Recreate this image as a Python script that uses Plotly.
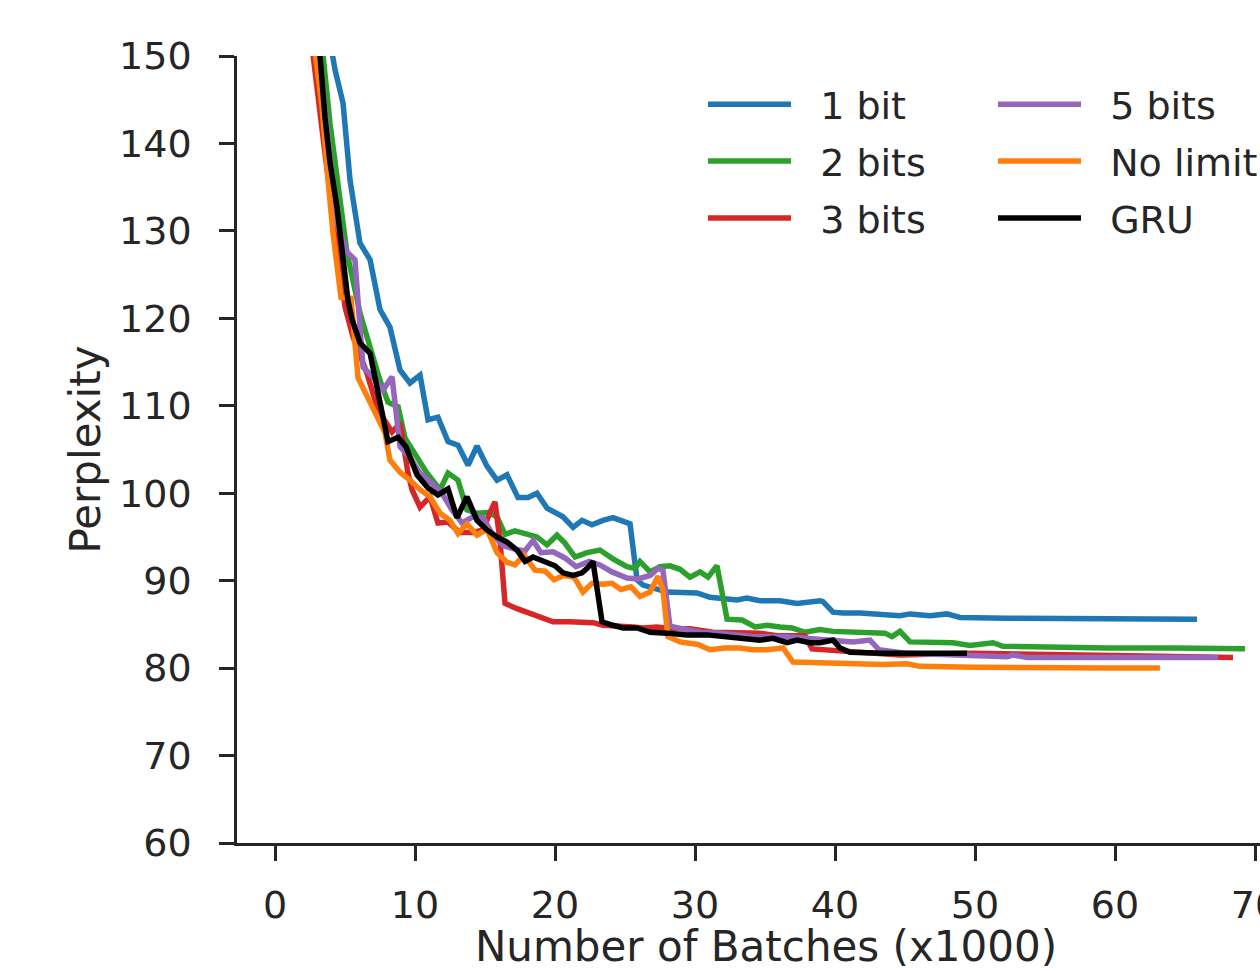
import plotly.graph_objects as go

# ---- data (x in thousands of batches, y = perplexity) ----
x_1bit = [3.9, 4.07, 4.29, 4.86, 5.36, 6.07, 6.79, 7.5, 8.21, 8.93, 9.64, 10.36, 10.93, 11.64, 12.36, 13.07,
          13.79, 14.43, 15.14, 15.86, 16.57, 17.36, 18.07, 18.71, 19.43, 20.57, 21.29, 21.93, 22.64, 23.43,
          24.14, 25.36, 25.86, 26.29, 28.0, 30.14, 31.07, 31.79, 33.0, 33.71, 34.64, 36.07, 37.29, 38.93,
          39.14, 39.86, 40.57, 41.79, 43.43, 44.64, 45.36, 46.79, 48.0, 48.93, 52.29, 57.0, 61.79, 65.86]
y_1bit = [152.0, 150.1, 148.4, 144.6, 135.8, 128.6, 126.7, 121.0, 119.0, 114.1, 112.6, 113.5, 108.4, 108.7,
          105.9, 105.5, 103.2, 105.4, 103.1, 101.5, 102.1, 99.5, 99.5, 100.0, 98.3, 97.3, 96.1, 96.9, 96.4,
          96.9, 97.2, 96.5, 90.1, 89.5, 88.7, 88.6, 88.1, 88.0, 87.8, 88.0, 87.7, 87.7, 87.4, 87.7, 87.6,
          86.4, 86.3, 86.3, 86.2, 86.0, 86.2, 86.0, 86.2, 85.8, 85.7, 85.7, 85.6, 85.6]

x_2bits = [3.2, 3.43, 3.93, 5.14, 6.07, 6.57, 7.5, 8.07, 8.79, 9.29, 10.14, 10.86, 11.79, 12.36, 13.07, 13.71,
           14.43, 15.21, 15.86, 16.43, 17.14, 18.0, 18.71, 19.43, 20.14, 20.71, 21.43, 22.29, 23.21, 24.14,
           25.14, 25.71, 26.07, 26.79, 27.5, 28.21, 28.93, 29.64, 30.36, 30.93, 31.57, 32.29, 33.36, 34.29,
           35.14, 36.07, 36.93, 37.86, 38.93, 39.86, 41.07, 42.29, 43.57, 44.07, 44.64, 45.36, 47.0, 48.43,
           49.64, 51.29, 52.0, 54.64, 59.43, 64.14, 69.29]
y_2bits = [152.5, 150.1, 142.3, 127.5, 120.6, 117.9, 112.9, 110.4, 109.9, 106.3, 104.1, 102.3, 100.4, 102.3,
           101.5, 98.1, 97.7, 97.8, 97.3, 95.3, 95.7, 95.3, 95.0, 94.1, 95.2, 94.3, 92.7, 93.2, 93.5, 92.5,
           91.6, 91.4, 92.2, 91.0, 91.6, 91.7, 91.3, 90.4, 91.0, 90.4, 91.7, 85.6, 85.5, 84.7, 84.9, 84.7,
           84.6, 84.1, 84.4, 84.2, 84.1, 84.0, 84.0, 83.6, 84.2, 83.0, 82.9, 82.9, 82.6, 82.9, 82.5, 82.4,
           82.3, 82.3, 82.2]

x_3bits = [2.5, 2.71, 3.6, 4.3, 5.0, 5.57, 6.57, 7.36, 8.36, 8.93, 9.5, 9.79, 10.36, 11.07, 11.64, 12.36,
           13.21, 14.14, 14.86, 15.36, 15.71, 16.07, 16.43, 17.29, 18.43, 19.14, 19.86, 21.07, 21.79, 22.71,
           23.43, 24.64, 25.57, 26.29, 27.29, 28.21, 29.64, 31.29, 32.71, 34.64, 35.86, 37.29, 37.86, 38.36,
           39.86, 41.29, 44.64, 49.86, 55.36, 61.07, 68.43]
y_3bits = [153.0, 150.1, 138.5, 130.0, 121.3, 117.9, 113.7, 109.5, 107.0, 108.0, 102.3, 100.4, 98.4, 99.6,
           96.6, 96.7, 95.5, 95.5, 95.8, 97.8, 99.0, 94.6, 87.4, 86.8, 86.1, 85.8, 85.3, 85.3, 85.2, 85.2,
           84.9, 84.7, 84.7, 84.6, 84.7, 84.5, 84.5, 84.1, 84.0, 84.0, 83.7, 83.6, 83.7, 82.2, 82.0, 81.8,
           81.5, 81.7, 81.5, 81.4, 81.2]

x_5bits = [2.8, 3.3, 4.4, 5.14, 5.71, 5.93, 6.29, 7.0, 7.71, 8.36, 8.93, 9.64, 10.36, 11.07, 11.93, 12.64,
           13.36, 14.14, 14.86, 15.57, 16.29, 17.14, 17.86, 18.43, 19.0, 19.86, 20.71, 21.5, 22.43, 23.21,
           24.07, 25.14, 25.93, 26.79, 27.36, 27.71, 28.21, 29.07, 30.36, 31.79, 34.14, 36.57, 38.0, 39.86,
           41.29, 42.5, 43.14, 45.0, 48.71, 52.29, 52.71, 53.71, 59.43, 67.36]
y_5bits = [153.0, 148.0, 131.0, 127.6, 126.7, 121.8, 114.4, 113.3, 111.8, 113.3, 105.3, 104.1, 102.3, 101.3,
           100.0, 98.1, 96.6, 97.3, 97.2, 95.2, 94.0, 93.6, 93.4, 94.6, 93.2, 93.3, 92.6, 91.6, 92.2, 91.8,
           91.0, 90.3, 90.2, 90.6, 91.4, 91.2, 84.8, 84.5, 84.1, 84.0, 83.6, 83.6, 83.4, 83.2, 83.0, 83.2,
           82.1, 81.7, 81.5, 81.3, 81.5, 81.2, 81.2, 81.2]

x_nolimit = [2.5, 2.86, 3.36, 3.79, 4.14, 4.71, 5.43, 5.93, 6.57, 7.29, 7.86, 8.21, 8.93, 9.64, 10.36, 11.07,
             11.79, 12.5, 13.07, 13.71, 14.43, 15.14, 15.86, 16.57, 17.14, 17.79, 18.57, 19.29, 19.93, 20.64,
             21.36, 22.0, 22.64, 23.43, 24.07, 24.71, 25.43, 26.07, 26.79, 27.36, 27.71, 28.07, 28.93, 30.21,
             31.07, 32.14, 33.21, 34.14, 35.14, 36.29, 37.0, 38.93, 40.86, 41.79, 43.43, 45.14, 46.07, 49.86,
             54.64, 59.43, 63.21]
y_nolimit = [155.0, 150.1, 144.2, 135.8, 129.8, 122.4, 122.3, 113.2, 111.2, 108.9, 106.9, 103.8, 102.4, 101.5,
             100.4, 99.6, 97.7, 96.9, 95.4, 96.5, 95.2, 95.9, 93.2, 92.1, 91.8, 92.9, 91.2, 91.1, 90.1, 90.6,
             90.4, 88.7, 89.7, 89.6, 89.7, 89.0, 89.3, 88.2, 88.7, 90.5, 88.9, 83.6, 83.0, 82.7, 82.1, 82.3,
             82.3, 82.1, 82.1, 82.3, 80.7, 80.6, 80.5, 80.6, 80.4, 80.5, 80.2, 80.1, 80.0, 80.0, 80.0]

x_gru = [3.0, 3.21, 3.57, 3.93, 4.43, 4.86, 5.21, 5.5, 6.07, 6.79, 7.43, 8.07, 8.79, 9.36, 10.14, 10.93, 11.64,
         12.36, 13.0, 13.71, 14.43, 15.14, 15.86, 16.57, 17.29, 17.86, 18.43, 19.29, 20.0, 20.57, 21.29, 21.93,
         22.29, 22.71, 23.36, 24.14, 24.86, 25.86, 26.79, 28.0, 29.43, 30.86, 32.0, 33.43, 34.64, 35.57, 36.57,
         37.29, 38.21, 38.93, 39.86, 40.36, 41.07, 43.43, 45.86, 48.21, 49.43]
y_gru = [152.0, 150.1, 143.0, 137.8, 132.7, 127.5, 122.1, 119.9, 117.2, 116.0, 110.9, 105.9, 106.4, 105.3,
         102.1, 100.6, 99.8, 100.5, 97.2, 99.6, 96.9, 95.8, 95.0, 94.4, 93.5, 92.2, 92.7, 92.1, 91.7, 90.9,
         90.6, 90.9, 91.4, 92.2, 85.3, 84.9, 84.6, 84.6, 84.1, 84.0, 83.8, 83.8, 83.6, 83.4, 83.2, 83.4, 82.9,
         83.2, 82.9, 82.9, 83.2, 82.3, 81.8, 81.7, 81.7, 81.7, 81.7]

names = ["1 bit", "2 bits", "3 bits", "5 bits", "No limit", "GRU"]
xs = [x_1bit, x_2bits, x_3bits, x_5bits, x_nolimit, x_gru]
ys = [y_1bit, y_2bits, y_3bits, y_5bits, y_nolimit, y_gru]
colors = ["#1f77b4", "#2ca02c", "#d62728", "#9467bd", "#ff7f0e", "#000000"]
legend_ids = ["legend", "legend", "legend", "legend2", "legend2", "legend2"]

x_ticks = [0, 10, 20, 30, 40, 50, 60, 70]
y_ticks = [60, 70, 80, 90, 100, 110, 120, 130, 140, 150]

INK = "#262626"
FONT = "DejaVu Sans"
NB = "\u00a0\u00a0"   # gap between legend line and label

# The original axes run past the right edge of the 1260px picture; the figure is drawn
# wider and the page shows its left 1260px, as in the reference.
W, H = 1295, 971
ML, MT, MB = 237, 56, 128
PW = W - ML
PH = H - MT - MB

fig = go.Figure()
for i, (n, x, y, c, lg) in enumerate(zip(names, xs, ys, colors, legend_ids)):
    fig.add_trace(go.Scatter(
        x=x, y=y, mode="lines", name=NB + n,
        line=dict(color=c, width=5.5),
        legend=lg, legendgroup=n, legendrank=i,
    ))

legend_common = dict(
    font=dict(family=FONT, size=38, color=INK),
    bgcolor="rgba(0,0,0,0)", borderwidth=0,
    xanchor="left", yanchor="top",
    itemwidth=83, tracegroupgap=4.5,
    traceorder="grouped",
)

def lx(px):  # page pixel -> paper x
    return (px - ML) / PW

def ly(py):  # page pixel -> paper y
    return 1 - (py - MT) / PH

fig.update_layout(
    width=W, height=H,
    margin=dict(l=ML, r=0, t=MT, b=MB, autoexpand=False),
    paper_bgcolor="white", plot_bgcolor="white",
    font=dict(family=FONT, size=38, color=INK),
    showlegend=True,
    legend=dict(x=lx(703), y=ly(73), **legend_common),
    legend2=dict(x=lx(993), y=ly(73), **legend_common),
    xaxis=dict(
        range=[(ML - 275) / 14, (W - 275) / 14], tickvals=x_ticks, ticktext=[str(v) for v in x_ticks],
        showgrid=False, zeroline=False, showline=True, linecolor=INK, linewidth=2.5,
        ticks="outside", ticklen=15, tickwidth=2.5, tickcolor=INK,
        ticklabelstandoff=12,
        tickfont=dict(family=FONT, size=38, color=INK),
        title=dict(text="Number of Batches (x1000)", standoff=32,
                   font=dict(family=FONT, size=42, color=INK)),
        automargin=False,
    ),
    yaxis=dict(
        range=[60, 150], tickvals=y_ticks, ticktext=[str(v) for v in y_ticks],
        showgrid=False, zeroline=False, showline=True, linecolor=INK, linewidth=2.5,
        ticks="outside", ticklen=15, tickwidth=2.5, tickcolor=INK,
        ticklabelstandoff=20,
        tickfont=dict(family=FONT, size=38, color=INK),
        title=dict(text="Perplexity", standoff=6,
                   font=dict(family=FONT, size=42, color=INK)),
        automargin=False,
    ),
)

fig.write_html(
    "out.html",
    config={"displayModeBar": False},
    post_script=(
        "document.documentElement.style.overflow='hidden';"
        "document.body.style.margin='0';"
        "document.body.style.overflow='hidden';"
    ),
)
